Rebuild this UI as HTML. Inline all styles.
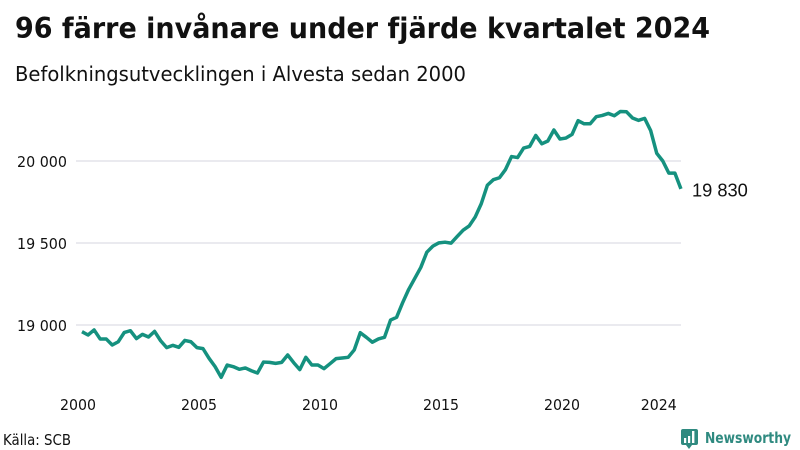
<!DOCTYPE html>
<html lang="sv">
<head>
<meta charset="utf-8">
<title>96 färre invånare under fjärde kvartalet 2024</title>
<style>
html,body{margin:0;padding:0;background:#fff;width:800px;height:450px;overflow:hidden}
svg{display:block}
text{font-family:"DejaVu Sans","Liberation Sans",sans-serif;fill:#111}
</style>
</head>
<body>
<svg id="chart" width="800" height="450" viewBox="0 0 800 450" xmlns="http://www.w3.org/2000/svg">
  <rect width="800" height="450" fill="#fff"/>
  <text x="15" y="38" font-size="28.5" font-weight="700" textLength="695" lengthAdjust="spacingAndGlyphs">96 färre invånare under fjärde kvartalet 2024</text>
  <text x="15" y="81" font-size="20.5" textLength="451" lengthAdjust="spacingAndGlyphs">Befolkningsutvecklingen i Alvesta sedan 2000</text>
  <g id="grid"></g>
  <g id="yticks"></g>
  <g id="xticks"></g>
  <path id="line" fill="none" stroke="#15917f" stroke-width="3.5" stroke-linejoin="round" stroke-linecap="butt"/>
  <text id="endlabel" style="font-family:'Liberation Sans',Arial,sans-serif" font-size="18.3"></text>
  <text x="3" y="445" font-size="15" textLength="68" lengthAdjust="spacingAndGlyphs">Källa: SCB</text>
  <g>
    <rect x="681" y="429" width="17" height="16" rx="2" fill="#2f8a80"/>
    <path d="M686 445 L692 445 L689 449 Z" fill="#2f8a80"/>
    <rect x="684" y="438" width="2.2" height="5" fill="#fff"/>
    <rect x="688" y="436" width="2.2" height="7" fill="#fff"/>
    <rect x="692" y="431" width="2.4" height="12" fill="#fff"/>
    <text x="705" y="443" font-size="15" font-weight="700" textLength="86" lengthAdjust="spacingAndGlyphs" style="fill:#2f8a80">Newsworthy</text>
  </g>
</svg>
<script>
const startYear = 2000;
const pointsPerYear = 4;
const values = [
  18959,18939,18970,18915,18915,18878,18898,18955,18965,18917,
  18943,18927,18961,18904,18862,18876,18864,18906,18898,18862,
  18856,18797,18746,18681,18756,18746,18730,18738,18721,18707,
  18774,18772,18766,18772,18817,18770,18728,18803,18756,18756,
  18734,18764,18795,18799,18803,18848,18953,18925,18895,18915,
  18925,19030,19047,19136,19217,19284,19351,19444,19481,19501,
  19505,19499,19539,19578,19604,19659,19740,19852,19886,19898,
  19948,20027,20021,20079,20089,20156,20105,20122,20189,20134,
  20140,20162,20246,20227,20227,20270,20278,20290,20276,20302,
  20300,20262,20248,20260,20185,20047,20000,19926,19926,19830
];
const yTicks = [19000, 19500, 20000];
const yTickLabels = ["19 000", "19 500", "20 000"];
const xTicks = [2000, 2005, 2010, 2015, 2020, 2024];
const xTickLabels = ["2000", "2005", "2010", "2015", "2020", "2024"];
const lastValueLabel = "19 830";

const NS = "http://www.w3.org/2000/svg";
function xScale(year){ return 78 + (year - 2000) * 24.2; }
function yScale(v){ return 325 - (v - 19000) * 0.164; }
function pointYear(i){ return startYear + 0.165 + i / pointsPerYear; }

const gridG = document.getElementById("grid");
const yG = document.getElementById("yticks");
const xG = document.getElementById("xticks");

yTicks.forEach(function(t, i){
  const ln = document.createElementNS(NS, "line");
  
  
  ln.setAttribute("x1", 76);
  ln.setAttribute("x2", 681);
  ln.setAttribute("y1", yScale(t));
  ln.setAttribute("y2", yScale(t));
  ln.setAttribute("stroke", "#e3e3ea");
  ln.setAttribute("stroke-width", "1.6");
  gridG.appendChild(ln);
  const tx = document.createElementNS(NS, "text");
  
  
  tx.setAttribute("x", 17);
  tx.setAttribute("y", yScale(t) + 6);
  tx.setAttribute("font-size", "15.5");
  tx.setAttribute("textLength", "50");
  tx.setAttribute("lengthAdjust", "spacingAndGlyphs");
  tx.textContent = yTickLabels[i];
  yG.appendChild(tx);
});

xTicks.forEach(function(t, i){
  const tx = document.createElementNS(NS, "text");
  
  
  tx.setAttribute("x", xScale(t) - 18);
  tx.setAttribute("y", 410);
  tx.setAttribute("font-size", "15.5");
  tx.setAttribute("textLength", "36");
  tx.setAttribute("lengthAdjust", "spacingAndGlyphs");
  tx.textContent = xTickLabels[i];
  xG.appendChild(tx);
});

document.getElementById("line").setAttribute("d", values.map(function(v, i){
  return (i ? "L" : "M") + xScale(pointYear(i)).toFixed(2) + " " + yScale(v).toFixed(2);
}).join(" "));

const endL = document.getElementById("endlabel");
endL.setAttribute("x", xScale(pointYear(values.length - 1)) + 11);
endL.setAttribute("y", yScale(values[values.length - 1]) + 7.5);
endL.textContent = lastValueLabel;
</script>
</body>
</html>
